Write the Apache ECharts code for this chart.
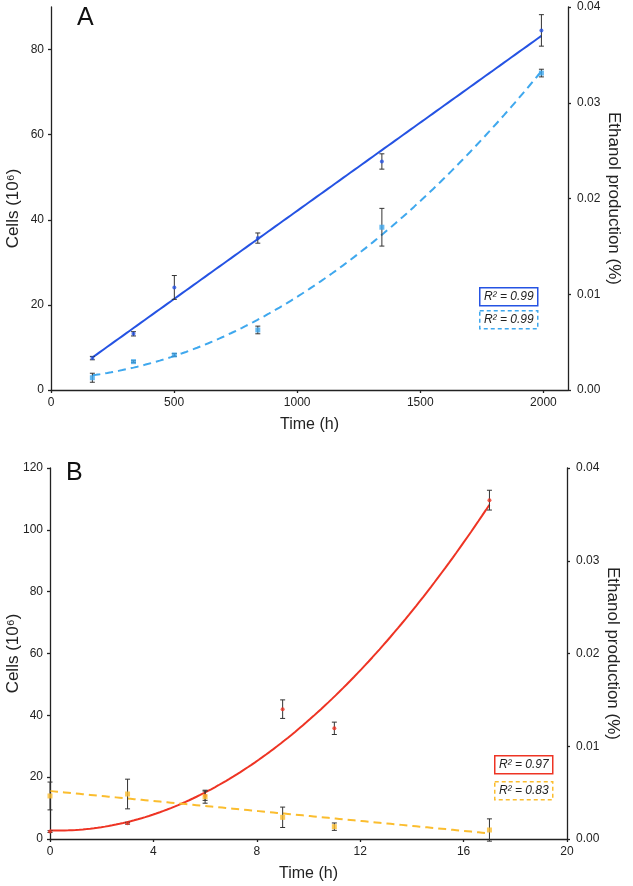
<!DOCTYPE html>
<html>
<head>
<meta charset="utf-8">
<script src="https://cdn.jsdelivr.net/npm/echarts@6/dist/echarts.min.js"></script>
<style>
html,body{margin:0;padding:0;background:#fff;}
#chart{width:633px;height:886px;}
</style>
</head>
<body>
<div id="chart"></div>
<script>
// ---------- Data (panel A) ----------
const timeA = [168, 335, 501, 840, 1344, 1992];
const cellsA = [7.5, 13.2, 24.1, 35.7, 53.7, 84.5];
const cellsAErr = [0.4, 0.5, 2.8, 1.2, 1.8, 3.7];
const ethanolA = [0.00128, 0.00296, 0.00366, 0.00627, 0.0170, 0.0331];
const ethanolAErr = [0.00047, 0.0001, 0.00015, 0.0004, 0.00197, 0.0004];
const r2A = ['R² = 0.99', 'R² = 0.99'];

// ---------- Data (panel B) ----------
const timeB = [0, 3, 6, 9, 11, 17];
const cellsB = [2.4, 5.1, 14.0, 42.0, 35.8, 109.6];
const cellsBErr = [0.3, 0.3, 1.5, 3.0, 2.0, 3.2];
const ethanolB = [0.00464, 0.00485, 0.00456, 0.00234, 0.00133, 0.00097];
const ethanolBErr = [0.0015, 0.0016, 0.0007, 0.0011, 0.0004, 0.0012];
const r2B = ['R² = 0.97', 'R² = 0.83'];

// ---------- Axis ticks ----------
const xTicksA = [0, 500, 1000, 1500, 2000];
const yTicksA = [0, 20, 40, 60, 80];
const ethTicks = [0, 0.01, 0.02, 0.03, 0.04];
const xTicksB = [0, 4, 8, 12, 16, 20];
const yTicksB = [0, 20, 40, 60, 80, 100, 120];

const C_DARK = '#2553e3', C_LIGHT = '#3fa8ee', C_RED = '#ee3424', C_YEL = '#fbbd2e';
const FONT = '"Liberation Sans", Arial, Helvetica, sans-serif';

// ---------- Regression helpers ----------
function fitLinear(xs, ys) {
  const n = xs.length;
  const mx = xs.reduce((a, b) => a + b, 0) / n, my = ys.reduce((a, b) => a + b, 0) / n;
  let sxy = 0, sxx = 0;
  for (let i = 0; i < n; i++) { sxy += (xs[i] - mx) * (ys[i] - my); sxx += (xs[i] - mx) ** 2; }
  const b = sxy / sxx, a = my - b * mx;
  return x => a + b * x;
}
function fitPoly2(xs, ys) {
  let s0 = 0, s1 = 0, s2 = 0, s3 = 0, s4 = 0, t0 = 0, t1 = 0, t2 = 0;
  for (let i = 0; i < xs.length; i++) {
    const x = xs[i], y = ys[i];
    s0 += 1; s1 += x; s2 += x * x; s3 += x ** 3; s4 += x ** 4;
    t0 += y; t1 += x * y; t2 += x * x * y;
  }
  const M = [[s0, s1, s2, t0], [s1, s2, s3, t1], [s2, s3, s4, t2]];
  for (let c = 0; c < 3; c++) {
    for (let r = c + 1; r < 3; r++) {
      const f = M[r][c] / M[c][c];
      for (let k = c; k < 4; k++) M[r][k] -= f * M[c][k];
    }
  }
  const sol = [0, 0, 0];
  for (let r = 2; r >= 0; r--) {
    let s = M[r][3];
    for (let k = r + 1; k < 3; k++) s -= M[r][k] * sol[k];
    sol[r] = s / M[r][r];
  }
  return x => sol[0] + sol[1] * x + sol[2] * x * x;
}
function sample(fn, x0, x1, n) {
  const out = [];
  for (let i = 0; i <= n; i++) { const x = x0 + (x1 - x0) * i / n; out.push([x, fn(x)]); }
  return out;
}
const zip = (xs, ys) => xs.map((x, i) => [x, ys[i]]);
const zip3 = (xs, ys, es) => xs.map((x, i) => [x, ys[i], es[i]]);

function renderErr(params, api) {
  const x = api.value(0), y = api.value(1), e = api.value(2);
  const t = api.coord([x, y + e]), b = api.coord([x, y - e]);
  const cw = 2.5;
  const st = { stroke: '#333', lineWidth: 1 };
  return { type: 'group', children: [
    { type: 'line', shape: { x1: t[0], y1: t[1], x2: b[0], y2: b[1] }, style: st },
    { type: 'line', shape: { x1: t[0] - cw, y1: t[1], x2: t[0] + cw, y2: t[1] }, style: st },
    { type: 'line', shape: { x1: b[0] - cw, y1: b[1], x2: b[0] + cw, y2: b[1] }, style: st }
  ]};
}

const axisCommon = {
  axisLine: { show: true, onZero: false, lineStyle: { color: '#222', width: 1.3 } },
  axisTick: { show: true, length: 3, lineStyle: { color: '#222', width: 1.3 } },
  axisLabel: { color: '#222', fontSize: 12, fontFamily: FONT },
  splitLine: { show: false },
  nameMoveOverlap: false
};
function xAx(grid, min, max, ticks) {
  return Object.assign({}, axisCommon, {
    gridIndex: grid, type: 'value', min, max,
    axisTick: Object.assign({}, axisCommon.axisTick, { customValues: ticks }),
    axisLabel: Object.assign({}, axisCommon.axisLabel, { customValues: ticks, margin: 7, formatter: v => String(v) }),
    name: 'Time (h)', nameLocation: 'middle', nameGap: 27,
    nameTextStyle: { color: '#222', fontSize: 16, fontFamily: FONT }
  });
}
function yAx(grid, min, max, ticks, pos, name, fmt, gap, pad) {
  const isR = pos === 'right';
  return Object.assign({}, axisCommon, {
    gridIndex: grid, type: 'value', min, max, position: pos,
    axisTick: Object.assign({}, axisCommon.axisTick, { customValues: ticks }),
    axisLabel: Object.assign({}, axisCommon.axisLabel, { customValues: ticks, margin: isR ? 9 : 7, formatter: fmt }),
    name, nameLocation: 'middle', nameGap: gap, nameRotate: isR ? -90 : 90,
    nameTextStyle: { color: '#222', fontSize: 17, fontFamily: FONT, padding: pad || 0 }
  });
}
const fmtEth = v => v.toFixed(2);
const fmtInt = v => String(v);

const fA1 = fitLinear(timeA, cellsA), fA2 = fitPoly2(timeA, ethanolA);
const fB1 = fitPoly2(timeB, cellsB), fB2 = fitLinear(timeB, ethanolB);
const xr = xs => [Math.min(...xs), Math.max(...xs)];

function groupSeries(xi, yL, yR, xs, yl, el, yr, er, fl, fr, cl, cr) {
  const [x0, x1] = xr(xs);
  return [
    { type: 'line', xAxisIndex: xi, yAxisIndex: yL, data: sample(fl, x0, x1, 120), showSymbol: false, lineStyle: { color: cl, width: 2 }, z: 2, silent: true },
    { type: 'line', xAxisIndex: xi, yAxisIndex: yR, data: sample(fr, x0, x1, 120), showSymbol: false, lineStyle: { color: cr, width: 2, type: [8, 5] }, z: 2, silent: true },
    { type: 'custom', xAxisIndex: xi, yAxisIndex: yL, data: zip3(xs, yl, el), renderItem: renderErr, encode: { x: 0, y: 1 }, z: 3 },
    { type: 'custom', xAxisIndex: xi, yAxisIndex: yR, data: zip3(xs, yr, er), renderItem: renderErr, encode: { x: 0, y: 1 }, z: 3 },
    { type: 'scatter', xAxisIndex: xi, yAxisIndex: yL, data: zip(xs, yl), symbol: 'circle', symbolSize: 4, itemStyle: { color: cl }, z: 4 },
    { type: 'scatter', xAxisIndex: xi, yAxisIndex: yR, data: zip(xs, yr), symbol: 'rect', symbolSize: 5, itemStyle: { color: cr }, z: 4 }
  ];
}

function r2Box(x, y, text, color, dashed) {
  return { type: 'group', left: x, top: y, children: [
    { type: 'rect', shape: { x: 0, y: 0, width: 58, height: 18 }, style: { fill: '#fff', stroke: color, lineWidth: 1.5, lineDash: dashed ? [4, 3] : null } },
    { type: 'text', x: 29, y: 9, style: { text, fill: '#222', font: 'italic 12px ' + FONT, align: 'center', verticalAlign: 'middle' } }
  ]};
}

const option = {
  animation: false,
  backgroundColor: '#fff',
  grid: [
    { left: 51, right: 65, top: 7, bottom: 496, outerBoundsMode: 'none', containLabel: false },
    { left: 50, right: 66, top: 468, bottom: 47, outerBoundsMode: 'none', containLabel: false }
  ],
  xAxis: [xAx(0, 0, 2100, xTicksA), xAx(1, 0, 20, xTicksB)],
  yAxis: [
    yAx(0, 0, 90, yTicksA, 'left', 'Cells (10⁶)', fmtInt, 29, [0, 20, 0, 0]),
    yAx(0, 0, 0.04, ethTicks, 'right', 'Ethanol production (%)', fmtEth, 37),
    yAx(1, 0, 120, yTicksB, 'left', 'Cells (10⁶)', fmtInt, 28),
    yAx(1, 0, 0.04, ethTicks, 'right', 'Ethanol production (%)', fmtEth, 37)
  ],
  series: [].concat(
    groupSeries(0, 0, 1, timeA, cellsA, cellsAErr, ethanolA, ethanolAErr, fA1, fA2, C_DARK, C_LIGHT),
    groupSeries(1, 2, 3, timeB, cellsB, cellsBErr, ethanolB, ethanolBErr, fB1, fB2, C_RED, C_YEL)
  ),
  graphic: [
    { type: 'text', left: 77, top: 6, style: { text: 'A', font: '25px ' + FONT, fill: '#111' } },
    { type: 'text', left: 66, top: 461, style: { text: 'B', font: '25px ' + FONT, fill: '#111' } },
    r2Box(479, 287, r2A[0], C_DARK, false),
    r2Box(479, 310, r2A[1], C_LIGHT, true),
    r2Box(494, 755, r2B[0], C_RED, false),
    r2Box(494, 781, r2B[1], C_YEL, true)
  ]
};
const chart = echarts.init(document.getElementById('chart'), null, { renderer: 'canvas' });
chart.setOption(option);
</script>
</body>
</html>
